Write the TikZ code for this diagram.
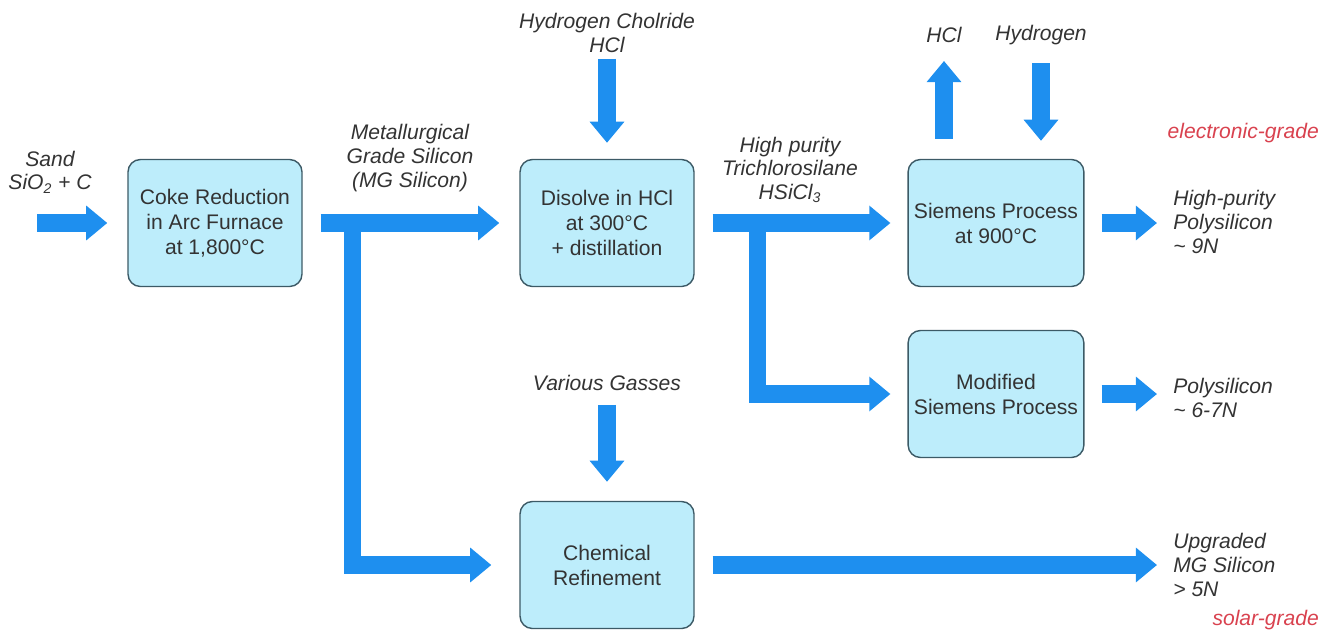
\documentclass[tikz,border=0pt]{standalone}
\usepackage{fontspec}
\setmainfont{Liberation Sans}
\usetikzlibrary{positioning,arrows.meta,calc}
\definecolor{flowblue}{HTML}{1E8FEF}
\definecolor{boxfill}{HTML}{BDEDFB}
\definecolor{boxedge}{HTML}{3C5A66}
\definecolor{tagtext}{HTML}{333333}
\definecolor{gradered}{HTML}{D9424F}

\begin{document}
\begin{tikzpicture}[x=0.02cm,y=-0.02cm,
  procbox/.style={draw=boxedge,fill=boxfill,line width=0.8pt,rounded corners=7pt,
    minimum width=3.48cm,minimum height=2.54cm,align=center,
    font=\fontsize{12}{14.2}\selectfont,text=tagtext},
  flow/.style={draw=flowblue,line width=10pt,line join=miter,
    -{Triangle[width=19pt,length=12pt]}},
  tag/.style={align=center,font=\itshape\fontsize{12}{13.5}\selectfont,text=tagtext},
  outtag/.style={tag,align=left,anchor=west,inner sep=0pt},
  grade/.style={font=\itshape\fontsize{12}{13.5}\selectfont,text=gradered,anchor=east}]
\useasboundingbox (0,0) rectangle (1342,633);

% process boxes
\node[procbox] (coke) at (215,223) {Coke Reduction\\in Arc Furnace\\at 1,800°C};
\node[procbox] (disolve) at (607,223) {Disolve in HCl\\at 300°C\\+ distillation};
\node[procbox] (siemens) at (996,223) {Siemens Process\\at 900°C};
\node[procbox] (modsp) at (996,394) {Modified\\Siemens Process};
\node[procbox] (chem) at (607,565) {Chemical\\Refinement};

% feeds and products
\node[tag] (sand) at (50,172) {Sand\\SiO\textsubscript{2} + C};
\node[tag] (mgs) at (410,158) {Metallurgical\\Grade Silicon\\(MG Silicon)};
\node[tag] (hclgas) at (607,33) {Hydrogen Cholride\\HCl};
\node[tag] (tcs) at (790,170) {High purity\\Trichlorosilane\\HSiCl\textsubscript{3}};
\node[tag] (hclout) at (944,35) {HCl};
\node[tag] (hydro) at (1041,35) {Hydrogen};
\node[tag] (gasses) at (607,383) {Various Gasses};
\node[outtag] (hpoly) at (1173,222) {High-purity\\Polysilicon\\\textasciitilde{} 9N};
\node[outtag] (poly) at (1173,398) {Polysilicon\\\textasciitilde{} 6-7N};
\node[outtag] (umg) at (1173,565) {Upgraded\\MG Silicon\\> 5N};
\node[grade] (egrade) at (1325,133) {electronic-grade};
\node[grade] (sgrade) at (1325,620) {solar-grade};

% split points
\coordinate (sandin) at (37,223);
\coordinate (mgsplit) at ($(coke.east)+(50,0)$);
\coordinate (tcsplit) at ($(disolve.east)+(63,0)$);

% flows
\draw[flow,shorten >=0.4cm] (sandin) -- (sandin -| coke.west);
\draw[flow,shorten <=0.36cm,shorten >=0.4cm] (coke.east) -- (disolve.west);
\draw[flow,shorten >=0.56cm] (mgsplit) |- (chem.west);
\draw[flow,shorten >=0.32cm] (hclgas) -- (disolve);
\draw[flow,shorten <=0.16cm,shorten >=0.38cm] (gasses) -- (chem);
\draw[flow,shorten <=0.36cm,shorten >=0.34cm] (disolve.east) -- (siemens.west);
\draw[flow,shorten >=0.34cm] (tcsplit) |- (modsp.west);
\draw[flow,shorten <=0.4cm,shorten >=0.24cm] (hclout |- siemens.north) -- (hclout);
\draw[flow,shorten <=0.24cm,shorten >=0.36cm] (hydro) -- (hydro |- siemens.north);
\draw[flow,shorten <=0.34cm,shorten >=0.32cm] (siemens.east) -- (siemens.east -| hpoly.west);
\draw[flow,shorten <=0.34cm,shorten >=0.32cm] (modsp.east) -- (modsp.east -| poly.west);
\draw[flow,shorten <=0.36cm,shorten >=0.32cm] (chem.east) -- (chem.east -| umg.west);
\end{tikzpicture}
\end{document}
